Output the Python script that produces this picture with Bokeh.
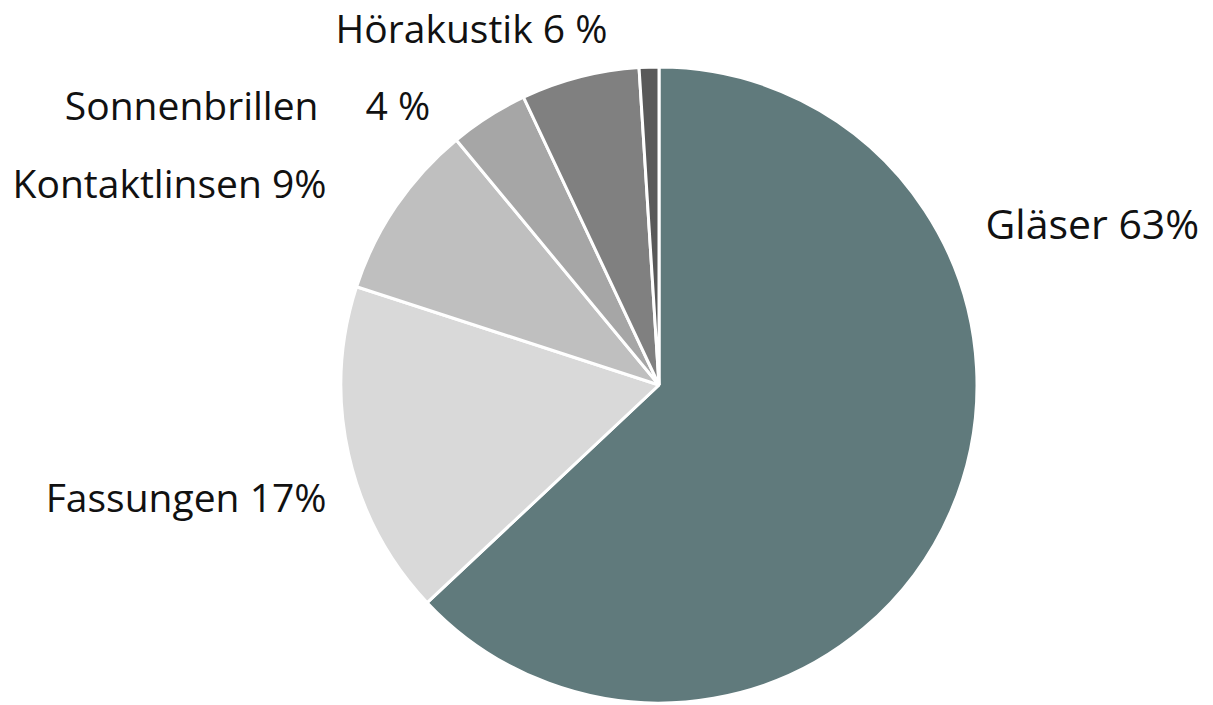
import math
from bokeh.plotting import figure
from bokeh.models import Range1d, ColumnDataSource
from bokeh.core.properties import value
from bokeh.embed import file_html
from bokeh.resources import INLINE

# ---- data ----
categories = ["Gläser", "Fassungen", "Kontaktlinsen", "Sonnenbrillen", "Hörakustik", "Sonstiges"]
shares = [63, 17, 9, 4, 6, 1]
colors = ["#607A7C", "#D9D9D9", "#BFBFBF", "#A6A6A6", "#808080", "#595959"]

label_texts = ["Gläser 63%", "Fassungen 17%", "Kontaktlinsen 9%", "Sonnenbrillen", "4 %", "Hörakustik 6 %"]

# ---- layout (screen pixels of the window) ----
W, H = 1213, 705
def sx(x):
    return x
def sy(y):
    return H - y

cx, cy, R = 658.5, 384.5, 318

total = float(sum(shares))
starts, ends = [], []
acc = 0.0
for s in shares:
    a0 = math.pi / 2 - 2 * math.pi * acc / total
    acc += s
    a1 = math.pi / 2 - 2 * math.pi * acc / total
    starts.append(a0)
    ends.append(a1)

src = ColumnDataSource(dict(x=[sx(cx)] * len(shares), y=[sy(cy)] * len(shares),
                            start=starts, end=ends, color=colors, cat=categories))

p = figure(width=W, height=H, output_backend="svg", toolbar_location=None,
           x_range=Range1d(0, W), y_range=Range1d(0, H), min_border=0,
           outline_line_color=None, background_fill_color="white",
           border_fill_color="white")
p.axis.visible = False
p.grid.visible = False

p.wedge(x="x", y="y", radius=R, radius_units="screen", start_angle="start", end_angle="end",
        direction="clock", fill_color="color", line_color="white", line_width=3, source=src)

# labels (vertical centre positions)
lx = [985, 326, 326, 318, 365, 471]
ly = [222, 496, 182, 104, 104, 27]
lsize = ["41px", "39px", "39px", "39px", "39px", "39px"]
lalign = ["left", "right", "right", "right", "left", "center"]

lsrc = ColumnDataSource(dict(x=[sx(v) for v in lx], y=[sy(v) for v in ly], text=label_texts,
                             size=lsize, align=lalign))
p.text(x="x", y="y", text="text", text_font=value("Open Sans"), text_font_size="size",
       text_align="align", text_baseline="middle", text_color="#111111", source=lsrc)

open("out.html", "w").write(file_html(p, INLINE))
